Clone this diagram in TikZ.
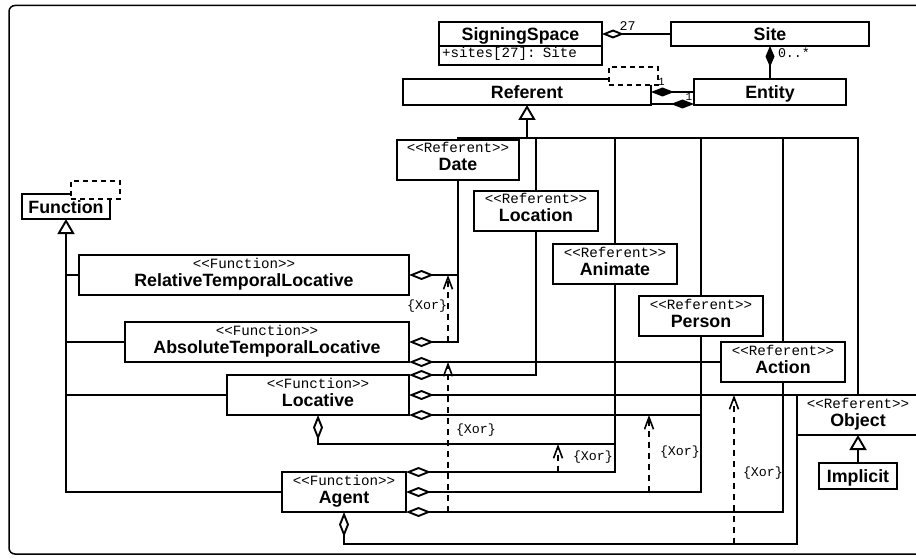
\documentclass[tikz,border=0pt]{standalone}
\usepackage{fontspec}
\setmainfont{Liberation Sans}
\newfontfamily\monof{Liberation Mono}
\usetikzlibrary{arrows.meta,calc}
\newcommand\stt[1]{{\monof\mdseries\fontsize{14.2}{18}\selectfont\rule{0pt}{12pt}<\kern0pt<#1>\kern0pt>}}
\newcommand\nmm[1]{#1\rule[-8pt]{0pt}{8pt}}
\begin{document}
\begin{tikzpicture}[x=1pt,y=-1pt,
  every node/.style={inner sep=0pt, outer sep=0pt},
  cls/.style={draw, fill=white, line width=1.9pt, align=center, font=\fontsize{17.8}{18}\selectfont\bfseries},
  cls1/.style={cls, text height=13pt, text depth=0pt},
  tpl/.style={draw, dash pattern=on 5pt off 4pt, fill=white, line width=1.6pt, minimum width=49pt, minimum height=18pt},
  conn/.style={line width=1.9pt},
  agg/.style={conn, -{Diamond[open, length=25pt, width=10pt]}},
  comp/.style={conn, -{Diamond[length=23pt, width=9pt]}},
  gen/.style={conn, -{Triangle[open, length=15pt, width=17pt]}},
  xor/.style={line width=1.6pt, dash pattern=on 6pt off 5pt, -{Straight Barb[length=12pt, width=9pt]}},
  lbl/.style={font=\monof\fontsize{13.3}{14}\selectfont},
  lbls/.style={font=\monof\fontsize{11}{12}\selectfont},
]
\useasboundingbox (0,0) rectangle (916,559);
\clip (0,0) rectangle (916,559);
\draw[line width=1.5pt, rounded corners=6pt] (9,5.5) rectangle (940,554);

% classes
\node[cls1, minimum width=163pt, minimum height=24pt] (ss) at (520.5,34) {SigningSpace};
\node[draw, fill=white, line width=1.9pt, minimum width=163pt, minimum height=19pt, text width=157pt, align=left, font=\monof\fontsize{14.2}{16}\selectfont, text height=9pt, text depth=4pt] (ssattr) at (520.5,55.5) {+sites[27]: Site};
\node[cls1, minimum width=198pt, minimum height=24pt] (site) at (770,34) {Site};
\node[cls1, minimum width=152pt, minimum height=26pt] (entity) at (770,92) {Entity};
\node[cls1, minimum width=248pt, minimum height=26pt] (referent) at (527,92) {Referent};
\node[tpl] (reftpl) at (633.5,76) {};

\node[cls, minimum width=122pt, minimum height=40pt] (date) at (458,160) {\stt{Referent}\\\nmm{Date}};
\node[cls, minimum width=124pt, minimum height=40pt] (location) at (536,211) {\stt{Referent}\\\nmm{Location}};
\node[cls, minimum width=124pt, minimum height=40pt] (animate) at (615,264) {\stt{Referent}\\\nmm{Animate}};
\node[cls, minimum width=124pt, minimum height=40pt] (person) at (701,316) {\stt{Referent}\\\nmm{Person}};
\node[cls, minimum width=124pt, minimum height=40pt] (action) at (783,362) {\stt{Referent}\\\nmm{Action}};
\node[cls, minimum width=122pt, minimum height=40pt] (object) at (858,415) {\stt{Referent}\\\nmm{Object}};
\node[cls1, minimum width=78pt, minimum height=26pt] (implicit) at (858,476) {Implicit};

\node[cls1, minimum width=88pt, minimum height=25pt] (function) at (66,206.5) {Function};
\node[tpl] (functpl) at (95.5,190) {};
\node[cls, minimum width=330pt, minimum height=40pt] (rtl) at (244,275) {\stt{Function}\\\nmm{RelativeTemporalLocative}};
\node[cls, minimum width=284pt, minimum height=40pt] (atl) at (267,342) {\stt{Function}\\\nmm{AbsoluteTemporalLocative}};
\node[cls, minimum width=182pt, minimum height=40pt] (locative) at (318,395) {\stt{Function}\\\nmm{Locative}};
\node[cls, minimum width=124pt, minimum height=40pt] (agent) at (344,492) {\stt{Function}\\\nmm{Agent}};

% top associations
\draw[agg, -{Diamond[open, length=22pt, width=9pt]}] (site.west) -- (ss.east);
\node[lbl] (m27) at (627.5,26.5) {27};
\draw[comp, -{Diamond[length=21pt, width=9pt]}] (entity.north) -- (site.south);
\node[lbl, anchor=west] (m0) at (778,53) {0..*};
\draw[comp] (entity.west) -- (referent.east);
\draw[comp] ($(referent.east)+(0,12)$) -- ($(entity.west)+(0,12)$);
\node[lbls] (m1a) at (661.5,82) {1};
\node[lbls] (m1b) at (689,96.5) {1};

% Referent generalization
\coordinate (bus) at ($(referent.south)+(0,33)$);
\draw[conn] (date.north) |- (bus) -| (object.north);
\foreach \n in {location,animate,person,action}
  \draw[conn] (\n.north) -- (\n.north |- bus);
\draw[gen] (bus) -- (referent.south);

% Function generalization
\draw[gen] (agent.west) -| (function.south);
\foreach \n in {rtl,atl,locative}
  \draw[conn] (\n.west) -- (\n.west -| function.south);
\draw[gen] (implicit.north) -- (object.south);

% aggregations
\draw[agg] (date.south) |- (rtl.east);
\draw[agg] (date.south) |- (atl.east);
\draw[agg] (location.south) |- (locative.north east);
\draw[agg] (action.west) -- (action.west -| atl.east);
\draw[agg] (action.south) |- (agent.south east);
\coordinate (lb) at ($(locative.south)+(0,29)$);
\draw[agg] (animate.south) |- (lb) -- (locative.south);
\draw[agg] (animate.south) |- (agent.north east);
\draw[agg] (person.south) |- (locative.south east);
\draw[agg] (person.south) |- (agent.east);
\draw[agg] (object.north west) -- (locative.east);
\coordinate (ab) at ($(agent.south)+(0,32)$);
\draw[agg] (object.south west) |- (ab) -- (agent.south);

% Xor constraints
\coordinate (xa) at (448,0);
\coordinate (xb) at (558,0);
\coordinate (xc) at (649,0);
\coordinate (xd) at (734,0);
\draw[xor] (xa |- atl.east) -- (xa |- rtl.east);
\draw[xor] (xa |- agent.south) -- (xa |- atl.south);
\draw[xor] (xb |- agent.north) -- (xb |- lb);
\draw[xor] (xc |- agent.east) -- (xc |- locative.south);
\draw[xor] (xd |- ab) -- (xd |- object.north);
\node[lbl, anchor=east] (x1l) at (447,306.5) {\{Xor\}};
\node[lbl, anchor=west] (x2l) at (456,430.5) {\{Xor\}};
\node[lbl, anchor=west] (x3l) at (573,457) {\{Xor\}};
\node[lbl, anchor=west] (x4l) at (660,452) {\{Xor\}};
\node[lbl, anchor=west] (x5l) at (743,473.5) {\{Xor\}};
\end{tikzpicture}
\end{document}
